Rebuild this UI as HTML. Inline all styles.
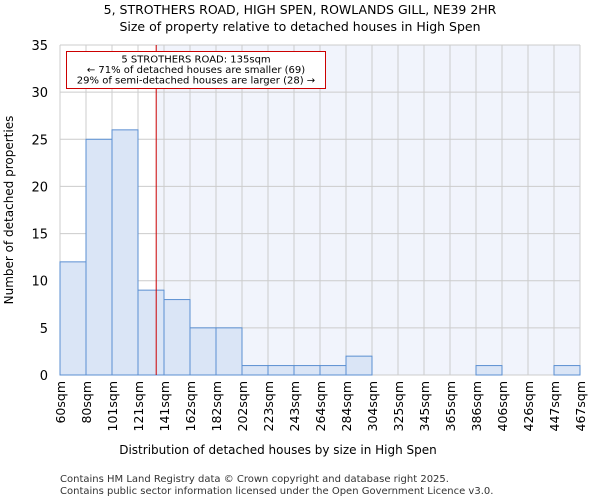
<!DOCTYPE html>
<html><head><meta charset="utf-8"><style>
body{margin:0;background:#fff;font-family:"DejaVu Sans","Liberation Sans",sans-serif}
</style></head><body>
<svg id="c" width="600" height="500" xmlns="http://www.w3.org/2000/svg" font-family="DejaVu Sans, Liberation Sans, sans-serif">
<text x="300" y="14" text-anchor="middle" font-size="12.5">5, STROTHERS ROAD, HIGH SPEN, ROWLANDS GILL, NE39 2HR</text>
<text x="300" y="31" text-anchor="middle" font-size="12.5">Size of property relative to detached houses in High Spen</text>
<g id="plot"></g>
<text x="278" y="454" text-anchor="middle" font-size="12">Distribution of detached houses by size in High Spen</text>
<text transform="translate(13,210) rotate(-90)" text-anchor="middle" font-size="12">Number of detached properties</text>
<text x="60" y="482" font-size="10" fill="#333">Contains HM Land Registry data © Crown copyright and database right 2025.</text>
<text x="60" y="494" font-size="10" fill="#333">Contains public sector information licensed under the Open Government Licence v3.0.</text>
</svg>
<script>
const edges=["60sqm","80sqm","101sqm","121sqm","141sqm","162sqm","182sqm","202sqm","223sqm","243sqm","264sqm","284sqm","304sqm","325sqm","345sqm","365sqm","386sqm","406sqm","426sqm","447sqm","467sqm"];
const counts=[12,25,26,9,8,5,5,1,1,1,1,2,0,0,0,0,1,0,0,1];
const yTicks=[0,5,10,15,20,25,30,35];
const marker=135;
const binStart=[60,80,101,121,141,162,182,202,223,243,264,284,304,325,345,365,386,406,426,447,467];
const NS="http://www.w3.org/2000/svg";
const L=60,R=580,T=45,B=375,yMax=35;
const bw=(R-L)/counts.length;
const xs=i=>L+i*bw;
const ys=v=>B-(v/yMax)*(B-T);
function xv(v){for(let i=0;i<binStart.length-1;i++){if(v>=binStart[i]&&v<=binStart[i+1])return xs(i)+(v-binStart[i])/(binStart[i+1]-binStart[i])*bw;}return R;}
const g=document.getElementById('plot');
function mk(t,a){const e=document.createElementNS(NS,t);for(const k in a)e.setAttribute(k,a[k]);g.appendChild(e);return e;}
const mx=xv(marker);
let e=mk('rect',{x:mx,y:T,width:R-mx,height:B-T,fill:'#f1f4fc'});


for(let i=0;i<=counts.length;i++){e=mk('line',{x1:xs(i),x2:xs(i),y1:T,y2:B,stroke:'#ccc','stroke-width':1});

}
yTicks.forEach(t=>{e=mk('line',{x1:L,x2:R,y1:ys(t),y2:ys(t),stroke:'#ccc','stroke-width':1});


e=mk('text',{x:L-12,y:ys(t)+5,'text-anchor':'end','font-size':13});e.textContent=t;

});
counts.forEach((v,i)=>{if(v<=0)return;e=mk('rect',{x:xs(i),y:ys(v),width:bw,height:B-ys(v),fill:'#dae5f6',stroke:'#5b8fd1','stroke-width':1});

});
edges.forEach((s,i)=>{e=mk('text',{transform:`translate(${xs(i)+5},381) rotate(-90)`,'text-anchor':'end','font-size':12.5});e.textContent=s;

});
e=mk('line',{x1:mx,x2:mx,y1:T,y2:B,stroke:'#cc0000','stroke-width':1});


e=mk('rect',{x:66.5,y:51.5,width:259,height:37,fill:'#fff',stroke:'#cc0000','stroke-width':1});


["5 STROTHERS ROAD: 135sqm","← 71% of detached houses are smaller (69)","29% of semi-detached houses are larger (28) →"].forEach((s,i)=>{e=mk('text',{x:196,y:62.5+i*10.5,'text-anchor':'middle','font-size':10});e.textContent=s;

});
</script>
</body></html>
